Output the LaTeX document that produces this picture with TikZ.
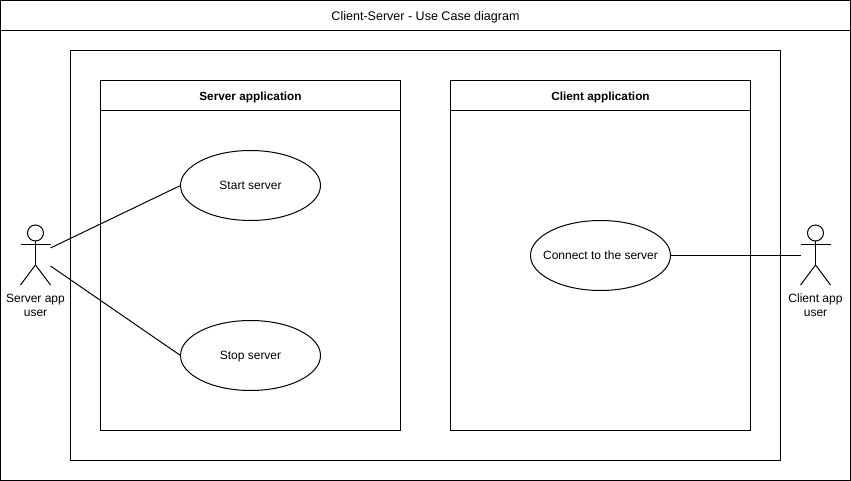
\documentclass[tikz,border=0pt]{standalone}
\usepackage{fontspec}
\setmainfont{Liberation Sans}
\tikzset{
  box/.style={rectangle, draw, line width=0.75pt, inner sep=0pt, outer sep=0pt},
  usecase/.style={ellipse, draw, line width=0.75pt, inner ysep=0pt, inner xsep=-8pt, outer sep=0pt, minimum width=105pt, minimum height=52.5pt, text height=8pt, text depth=2.2pt, font=\fontsize{9}{11}\selectfont},
  title/.style={box, text height=8.5pt, text depth=1.7pt, font=\fontsize{9.4}{11}\selectfont},
  apptitle/.style={title, minimum width=225pt, minimum height=22.5pt, font=\fontsize{8.85}{11}\selectfont\bfseries},
  appbox/.style={box, minimum width=225pt, minimum height=262.5pt},
  head/.style={circle, draw, line width=0.75pt, minimum size=12pt, inner sep=0pt, outer sep=0pt},
  actorlabel/.style={align=center, inner sep=0pt, font=\fontsize{9}{10.5}\selectfont},
  limb/.style={line width=0.75pt},
  link/.style={line width=0.75pt}
}
\usetikzlibrary{shapes.geometric}
\begin{document}
\begin{tikzpicture}[x=0.75pt, y=-0.75pt]
  \useasboundingbox (0,0) rectangle (851,481);

  \node[box, minimum width=637.5pt, minimum height=360pt] (frame) at (425.5,240.5) {};
  \node[title, minimum width=637.5pt, minimum height=22.5pt] (frametitle) at (425.5,15.5) {Client-Server - Use Case diagram};
  \node[box, minimum width=532.5pt, minimum height=307.5pt] (system) at (425.5,255.5) {};

  \node[appbox] (server) at (250.5,255.5) {};
  \node[apptitle] (servertitle) at (250.5,95.5) {Server application};
  \node[appbox] (client) at (600.5,255.5) {};
  \node[apptitle] (clienttitle) at (600.5,95.5) {Client application};

  \node[usecase] (start) at (250.5,185.5) {Start server};
  \node[usecase] (stop) at (250.5,355.5) {Stop server};
  \node[usecase] (connect) at (600.5,255.5) {Connect to the server};

  % server app user
  \node[head] (shead) at (35.5,233) {};
  \coordinate (shipp) at (35.5,265);
  \coordinate (sarml) at (20.5,245);
  \coordinate (sarmr) at (50.5,245);
  \coordinate (sfootl) at (20.5,285);
  \coordinate (sfootr) at (50.5,285);
  \coordinate (sup) at (50.5,248);
  \coordinate (sdown) at (50.5,266);
  \draw[limb] (shead) -- (shipp);
  \draw[limb] (sarml) -- (sarmr);
  \draw[limb] (sfootl) -- (shipp) -- (sfootr);
  \node[actorlabel] (slabel) at (35.5,305.5) {Server app\\user};

  % client app user
  \node[head] (chead) at (815.5,233) {};
  \coordinate (chipp) at (815.5,265);
  \coordinate (carml) at (800.5,245);
  \coordinate (carmr) at (830.5,245);
  \coordinate (cfootl) at (800.5,285);
  \coordinate (cfootr) at (830.5,285);
  \coordinate (cin) at (800.5,255.5);
  \draw[limb] (chead) -- (chipp);
  \draw[limb] (carml) -- (carmr);
  \draw[limb] (cfootl) -- (chipp) -- (cfootr);
  \node[actorlabel] (clabel) at (815.5,305.5) {Client app\\user};

  \draw[link] (sup) -- (start.west);
  \draw[link] (sdown) -- (stop.west);
  \draw[link] (connect.east) -- (cin);
\end{tikzpicture}
\end{document}
